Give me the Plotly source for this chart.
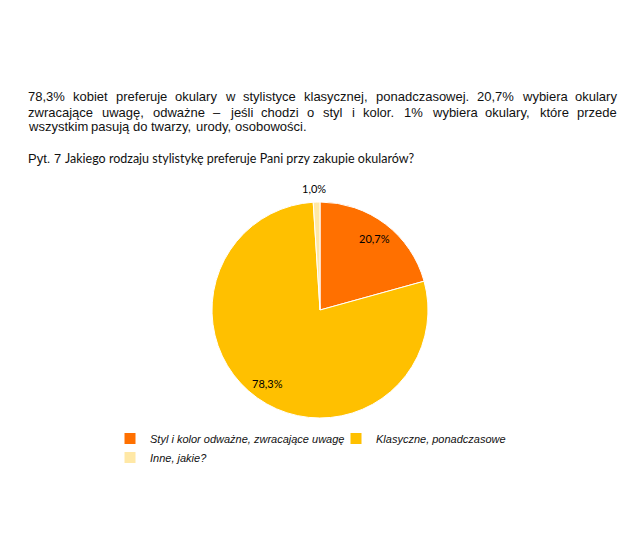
import plotly.graph_objects as go
import math

# dane z wykresu
kategorie = ["Styl i kolor odważne, zwracające uwagę", "Klasyczne, ponadczasowe", "Inne, jakie?"]
procenty = [20.7, 78.3, 1.0]
kolory = ["#FF7000", "#FFC000", "#FFE8A6"]

opis = [
    "78,3% kobiet preferuje okulary w stylistyce klasycznej, ponadczasowej. 20,7% wybiera okulary",
    "zwracające uwagę, odważne – jeśli chodzi o styl i kolor. 1% wybiera okulary, które przede",
    "wszystkim pasują do twarzy, urody, osobowości.",
]
pytanie_nr = "Pyt. 7"
pytanie = "Jakiego rodzaju stylistykę preferuje Pani przy zakupie okularów?"

# strona ma 8px marginesu body, więc rysunek jest o 16px mniejszy
OFF = 8
W, H = 644 - 2 * OFF, 556 - 2 * OFF


def px(x):
    return (x - OFF) / W


def py(y):
    return 1 - (y - OFF) / H


# szerokości znaków Arial / Liberation Sans (1/1000 em) - do wyjustowania tekstu
SZER = {" ": 278, "i": 222, "j": 222, "l": 222, "ł": 222, "f": 278, "t": 278, "r": 333,
        ",": 278, ".": 278, "%": 889, "m": 833, "w": 722, "c": 500, "k": 500, "s": 500,
        "v": 500, "x": 500, "y": 500, "z": 500, "ż": 500, "ś": 500, "ć": 500, "–": 556}


def szerokosc(slowo, rozm):
    return sum(SZER.get(ch, 556) for ch in slowo) * rozm / 1000


ROZM = 13
LEWO, PRAWO = 27, 616
adnotacje = []
for i, linia in enumerate(opis):
    y = py(97 + 15 * i)
    slowa = linia.split(" ")
    if i < len(opis) - 1:
        suma = sum(szerokosc(s, ROZM) for s in slowa)
        odstep = (PRAWO - LEWO - suma) / (len(slowa) - 1)
    else:
        odstep = szerokosc(" ", ROZM)
    x = LEWO
    for s in slowa:
        adnotacje.append(dict(
            text=s, x=px(x), y=y, xref="paper", yref="paper",
            xanchor="left", yanchor="middle", showarrow=False, borderpad=0,
            font=dict(family="Liberation Sans, Arial", size=ROZM, color="#111"),
        ))
        x += szerokosc(s, ROZM) + odstep

# numer pytania (Arial) i treść pytania (mniejsza czcionka typu Calibri)
adnotacje.append(dict(
    text=pytanie_nr, x=px(27), y=py(158), xref="paper", yref="paper",
    xanchor="left", yanchor="middle", showarrow=False, borderpad=0,
    font=dict(family="Liberation Sans, Arial", size=13, color="#111"),
))
adnotacje.append(dict(
    text=pytanie, x=px(64), y=py(158.5), xref="paper", yref="paper",
    xanchor="left", yanchor="middle", showarrow=False, borderpad=0,
    font=dict(family="Lato", size=12.5, color="#111"),
))

# etykiety procentowe wycinków, umieszczone wg kątów wyliczonych z wartości
CX, CY, R = 320, 310, 108
promien_etykiety = [0.83, 0.83, 1.11]
suma_proc = sum(procenty)
narast = 0
for v, k in zip(procenty, promien_etykiety):
    kat = 2 * math.pi * (narast + v / 2) / suma_proc
    narast += v
    ex = CX + k * R * math.sin(kat)
    ey = CY - k * R * math.cos(kat)
    if k > 1:
        ex, ey = ex - 2, ey - 2
    adnotacje.append(dict(
        text=f"{v:.1f}%".replace(".", ","), x=px(ex), y=py(ey), xref="paper", yref="paper",
        xanchor="center", yanchor="middle", showarrow=False,
        font=dict(family="Lato", size=11, color="black"),
    ))

fig = go.Figure(go.Pie(
    labels=kategorie,
    values=procenty,
    sort=False,
    direction="clockwise",
    rotation=0,
    marker=dict(colors=kolory, line=dict(color="white", width=1)),
    textinfo="none",
    domain=dict(x=[px(CX - R), px(CX + R)], y=[py(CY + R), py(CY - R)]),
    hoverinfo="label+percent",
))

fig.update_layout(
    width=W, height=H,
    margin=dict(l=0, r=0, t=0, b=0),
    paper_bgcolor="white",
    annotations=adnotacje,
    showlegend=True,
    legend=dict(
        orientation="h", x=(150 - OFF - 40) / W, y=1 - (438 - OFF - 14) / H,
        xanchor="left", yanchor="top",
        font=dict(family="Liberation Sans, Arial", size=11, style="italic", color="#111"),
        itemwidth=30, entrywidth=181, tracegroupgap=0,
    ),
)

fig.write_html("out.html")
